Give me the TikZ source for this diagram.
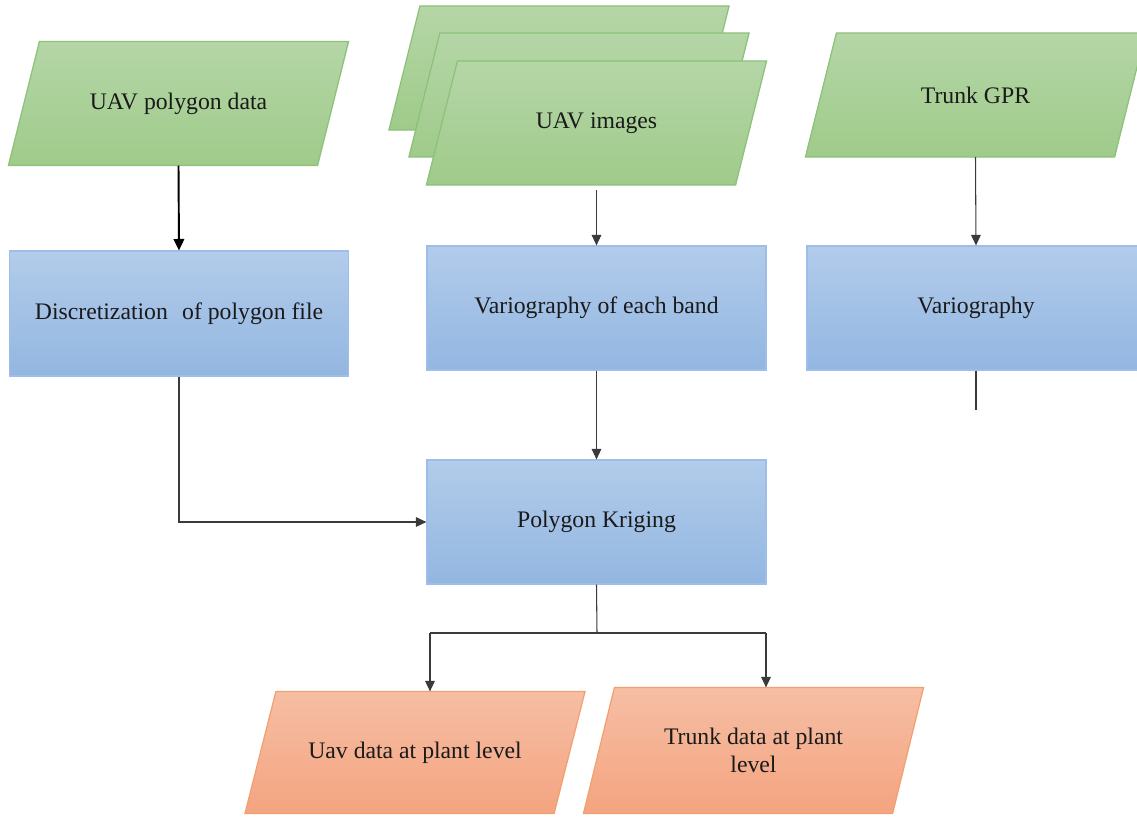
\documentclass[tikz,border=0pt]{standalone}
\usepackage{fontspec}
\setmainfont{Liberation Serif}
\usetikzlibrary{arrows.meta,calc}
\definecolor{gtop}{HTML}{B5D6A7}
\definecolor{gbot}{HTML}{9FCB8A}
\definecolor{gline}{HTML}{8CC17A}
\definecolor{btop}{HTML}{B2CCEA}
\definecolor{bbot}{HTML}{93B6E1}
\definecolor{bline}{HTML}{9CBEE8}
\definecolor{otop}{HTML}{F6BEA4}
\definecolor{obot}{HTML}{F4A480}
\definecolor{oline}{HTML}{F2A070}
\definecolor{txt}{HTML}{1A1A1A}
\definecolor{conn}{HTML}{3A3A3A}
\tikzset{
  base/.style={font=\fontsize{13.5}{16}\selectfont, text=txt, inner sep=0pt, align=center, line width=0.7pt},
  io/.style={base, rectangle, minimum width=6.16cm, minimum height=2.46cm},
  greenfill/.style={draw=gline, line width=0.7pt, top color=gtop, bottom color=gbot},
  orangefill/.style={draw=oline, line width=0.7pt, top color=otop, bottom color=obot},
  proc/.style={base, rectangle, draw=bline, top color=btop, bottom color=bbot, minimum width=6.78cm, minimum height=2.48cm},
  arr/.style={draw=conn, line width=0.6pt, -{Triangle[length=6pt,width=5.5pt]}},
  arrk/.style={draw=black, line width=1.1pt, -{Triangle[length=6.5pt,width=6pt]}},
  ln/.style={draw=conn, line width=0.6pt}
}
% parallelogram outline around a rectangle node (mid-width node, slant 31px)
\newcommand\paraof[2]{%
  \path[#2] ($(#1.north west)+(15.5,0)$) -- ($(#1.north east)+(15.5,0)$)
    -- ($(#1.south east)+(-15.5,0)$) -- ($(#1.south west)+(-15.5,0)$) -- cycle;}
\begin{document}
\begin{tikzpicture}[x=0.02cm,y=-0.02cm]
\useasboundingbox (0,0) rectangle (1137,816);
\clip (0,0) rectangle (1137,816);
% input parallelograms (stack of UAV images drawn back to front)
\node[io] (imgA) at (559,68) {};
\paraof{imgA}{greenfill}
\node[io] (imgB) at (579,95) {};
\paraof{imgB}{greenfill}
\node[io] (imgC) at (596.5,123) {};
\paraof{imgC}{greenfill}
\node[base] (imgCtext) at (imgC) {UAV images};
\node[io] (uavpoly) at (178.5,103.5) {};
\paraof{uavpoly}{greenfill}
\node[base] (uavpolytext) at (uavpoly) {UAV polygon data};
\node[io] (gpr) at (975.5,95) {};
\paraof{gpr}{greenfill}
\node[base] (gprtext) at (gpr) {Trunk GPR};
% process boxes
\node[proc, minimum height=2.5cm] (disc) at (179,313.5) {Discretization\hspace{0.6em}of polygon file};
\node[proc] (varband) at (596.5,308) {Variography of each band};
\node[proc, minimum width=6.76cm] (vario) at (976,308) {Variography};
\node[proc] (krig) at (596.5,522) {Polygon Kriging};
% outputs
\node[io, minimum height=2.42cm] (uavout) at (415,752.5) {};
\paraof{uavout}{orangefill}
\node[base] (uavouttext) at (uavout) {Uav data at plant level};
\node[io, minimum height=2.5cm] (trunkout) at (753.5,750.5) {};
\paraof{trunkout}{orangefill}
\node[base] (trunkouttext) at (trunkout) {Trunk data at plant\\level};
% coordinates
\coordinate (vend) at (976,410);
\coordinate (split) at (597,633);
\coordinate (lft) at (430,633);
\coordinate (rgt) at (766,633);
% connectors
\draw[arrk] (uavpoly.south) -- (disc.north);
\draw[arr] ([yshift=-0.1cm]imgC.south) -- (varband.north);
\draw[arr] (gpr.south) -- (vario.north);
\draw[ln] (vario.south) -- (vend);
\draw[arr] (disc.south) |- (krig.west);
\draw[arr] (varband.south) -- (krig.north);
\draw[ln] (krig.south) -- (split);
\draw[ln] (lft) -- (rgt);
\draw[arr] (lft) -- (lft |- uavout.north);
\draw[arr] (rgt) -- (rgt |- trunkout.north);
\end{tikzpicture}
\end{document}
